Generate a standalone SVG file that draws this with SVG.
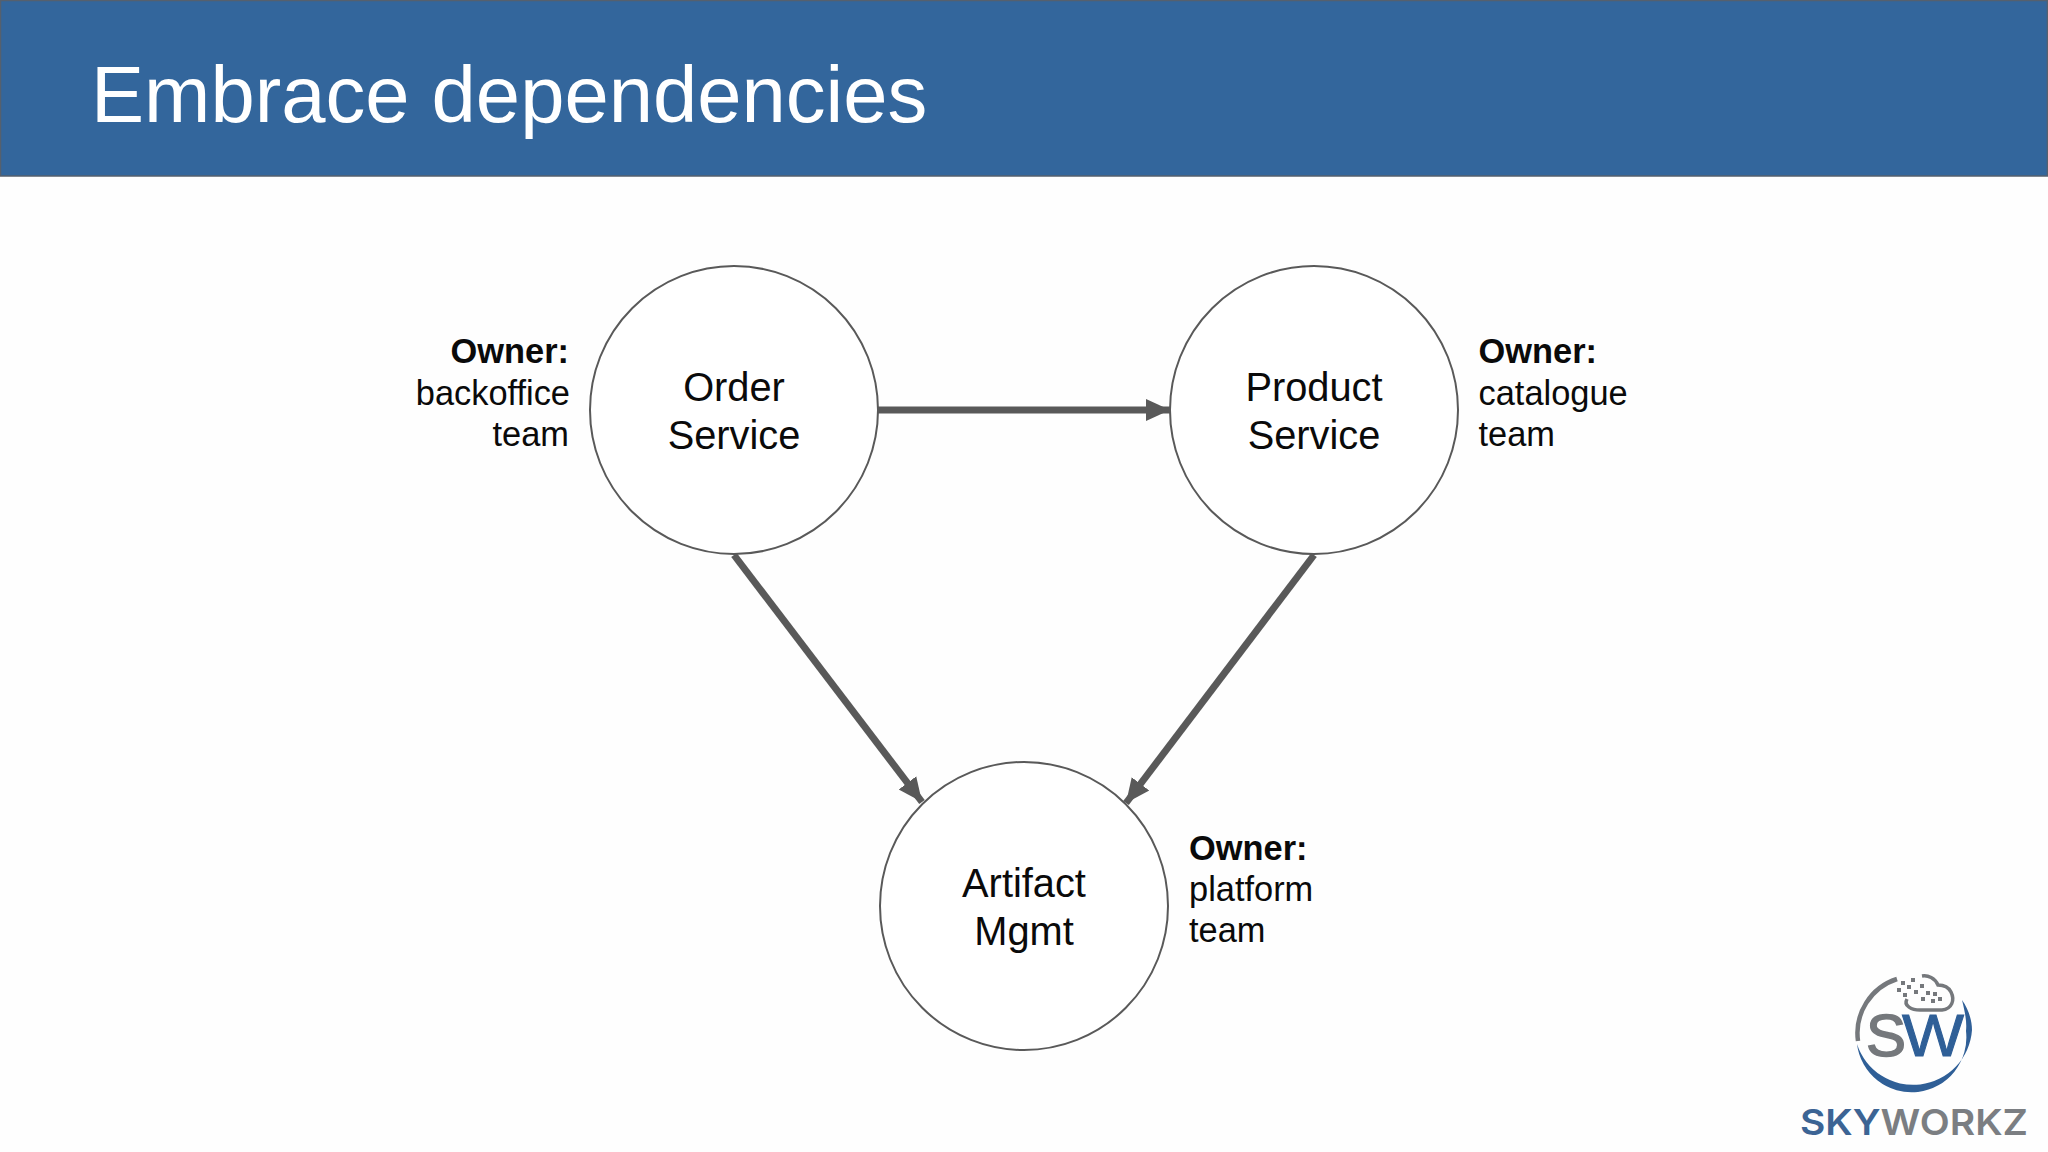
<svg xmlns="http://www.w3.org/2000/svg" width="2048" height="1152" viewBox="0 0 2048 1152">
<style>
text{font-family:"Liberation Sans",Arial,sans-serif;fill:#0a0a0a}
.c{fill:#fff;stroke:#595959;stroke-width:2}
.n{font-size:39.800px;text-anchor:middle}
.o{font-size:34.400px}
.b{font-weight:bold}
.e{text-anchor:end}
.l{stroke:#595959;stroke-width:7;fill:none;marker-end:url(#a)}
</style>
<defs><marker id="a" markerUnits="userSpaceOnUse" markerWidth="24" markerHeight="26" refX="24" refY="13" orient="auto"><path d="M0 2L24 13L0 24Z" fill="#595959"/></marker></defs>
<rect width="2048" height="1152" fill="#fefefe"/>
<g id="banner"><rect x="0.500" y="0.500" width="2047" height="175.500" fill="#33669c" stroke="#55606e" stroke-width="1.500"/>
<text x="91" y="122" font-size="79.600" style="fill:#fff">Embrace dependencies</text></g>
<g id="connectors">
<path class="l" d="M878 410H1170"/>
<path class="l" d="M734 555L922 802"/>
<path class="l" d="M1314 555L1126 803"/>
</g>
<g id="order"><circle class="c" cx="734" cy="410" r="144"/>
<text class="n" x="734" y="401">Order</text><text class="n" x="734" y="449">Service</text>
<text class="o b e" x="569" y="363">Owner:</text><text class="o e" x="570" y="405">backoffice</text><text class="o e" x="569" y="446">team</text></g>
<g id="product"><circle class="c" cx="1314" cy="410" r="144"/>
<text class="n" x="1314" y="401">Product</text><text class="n" x="1314" y="449">Service</text>
<text class="o b" x="1478.500" y="363">Owner:</text><text class="o" x="1478.500" y="405">catalogue</text><text class="o" x="1478.500" y="446">team</text></g>
<g id="artifact"><circle class="c" cx="1024" cy="906" r="144"/>
<text class="n" x="1024" y="897">Artifact</text><text class="n" x="1024" y="945">Mgmt</text>
<text class="o b" x="1189" y="860">Owner:</text><text class="o" x="1189" y="901">platform</text><text class="o" x="1189" y="942">team</text></g>
<g id="logo">
<path d="M1897 979A57 57 0 0 0 1858 1041" fill="none" stroke="#75787c" stroke-width="4.500"/>
<path d="M1857 1044A59 59 0 0 0 1972 1030C1972 1020 1968 1008 1962 1000C1965 1012 1967 1022 1966 1031A52 52 0 0 1 1857 1044Z" fill="#2f5f97"/>
<path d="M1907 999C1903 1006 1912 1010 1920 1010L1942 1010C1952 1009 1955 1000 1951 992C1948 986 1942 985 1938 985C1935 978 1928 975 1922 976" fill="none" stroke="#75787c" stroke-width="3.500"/>
<g fill="#75787c"><rect x="1897" y="988" width="4" height="4"/><rect x="1901" y="981" width="4" height="4"/><rect x="1907" y="985" width="4" height="4"/><rect x="1903" y="993" width="4" height="4"/><rect x="1911" y="978" width="4" height="4"/><rect x="1914" y="990" width="4" height="4"/><rect x="1920" y="984" width="4" height="4"/><rect x="1926" y="991" width="4" height="4"/><rect x="1921" y="997" width="4" height="4"/><rect x="1933" y="992" width="4" height="4"/><rect x="1931" y="999" width="4" height="4"/><rect x="1938" y="997" width="4" height="4"/></g>
<text x="1866" y="1056" font-size="60" style="fill:#75787c;stroke:#75787c;stroke-width:1.500">S</text>
<text x="1902" y="1056" font-size="60" textLength="62" lengthAdjust="spacingAndGlyphs" style="fill:#2f5f97;stroke:#2f5f97;stroke-width:1">W</text>
<text x="1800" y="1135" font-size="36" font-weight="600" textLength="228" lengthAdjust="spacingAndGlyphs" style="font-family:Inter,sans-serif;fill:#7b7e82"><tspan style="fill:#3c6494">SKY</tspan>WORKZ</text>
</g>
</svg>
